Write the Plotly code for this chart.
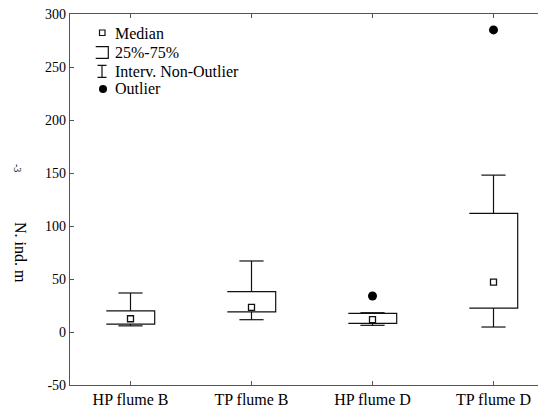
import plotly.graph_objects as go

categories = ["HP flume B", "TP flume B", "HP flume D", "TP flume D"]
medians = [12.5, 23.3, 11.6, 47]
q1 = [7.5, 19, 8.2, 22.6]
q3 = [20, 38, 17.6, 112]
whisk_lo = [5.8, 11.6, 6.3, 4.7]
whisk_hi = [36.8, 67, 18.2, 148]
outlier_x = ["HP flume D", "TP flume D"]
outlier_y = [34, 285]
y_ticks = [-50, 0, 50, 100, 150, 200, 250, 300]
y_tick_labels = ["-50", "0", "50", "100", "150", "200", "250", "300"]

PAGE_W, PAGE_H = 546, 409
OFF = 8  # browser body margin
W, H = PAGE_W - OFF, PAGE_H - OFF
# plot area in page pixels: left 70, top 14, bottom 385, right 546
L, R, T, B = 70 - OFF, 0, 14 - OFF, PAGE_H - 385
plot_w = W - L - R
plot_h = H - T - B
unit_px = 121.0
x_min = -0.5
x_max = x_min + plot_w / unit_px

FONT = "Liberation Serif, Times New Roman, serif"
LINE = "#111111"
AXIS = "#555555"

BOX_HW = 0.2
CAP_HW = 0.1

fig = go.Figure()
for i, c in enumerate(categories):
    # open-left box: top, right side, bottom
    fig.add_trace(go.Scatter(
        x=[i - BOX_HW, i + BOX_HW, i + BOX_HW, i - BOX_HW],
        y=[q3[i], q3[i], q1[i], q1[i]],
        mode="lines", line=dict(color=LINE, width=1.2),
        showlegend=False, hoverinfo="skip"))
    # whiskers
    fig.add_trace(go.Scatter(
        x=[i, i, None, i - CAP_HW, i + CAP_HW, None, i, i, None, i - CAP_HW, i + CAP_HW],
        y=[q3[i], whisk_hi[i], None, whisk_hi[i], whisk_hi[i], None,
           q1[i], whisk_lo[i], None, whisk_lo[i], whisk_lo[i]],
        mode="lines", line=dict(color=LINE, width=1.2),
        showlegend=False, hoverinfo="skip"))

fig.add_trace(go.Scatter(
    x=list(range(len(categories))), y=medians, mode="markers",
    marker=dict(symbol="square-open", size=6, color=LINE, line=dict(width=1.3, color=LINE)),
    showlegend=False, hoverinfo="skip"))

fig.add_trace(go.Scatter(
    x=[categories.index(c) for c in outlier_x], y=outlier_y, mode="markers",
    marker=dict(symbol="circle", size=9, color="black"),
    showlegend=False, hoverinfo="skip"))


def px(xp):
    # page pixel x -> paper fraction
    return (xp - OFF - L) / plot_w


def py(yp):
    # page pixel y -> paper fraction
    return (385 - yp) / plot_h


shapes = []
shapes.append(dict(type="rect", xref="paper", yref="paper",
                   x0=px(99.5), x1=px(105), y0=py(35.5), y1=py(30),
                   line=dict(color=LINE, width=1.2)))
shapes.append(dict(type="path", xref="paper", yref="paper",
                   path=f"M {px(95.7)},{py(46.7)} L {px(108.3)},{py(46.7)} L {px(108.3)},{py(58.3)} L {px(95.7)},{py(58.3)}",
                   line=dict(color=LINE, width=1.2)))
shapes.append(dict(type="path", xref="paper", yref="paper",
                   path=(f"M {px(97.5)},{py(65.3)} L {px(106.5)},{py(65.3)} "
                         f"M {px(102)},{py(65.3)} L {px(102)},{py(77.3)} "
                         f"M {px(97.5)},{py(77.3)} L {px(106.5)},{py(77.3)}"),
                   line=dict(color=LINE, width=1.2)))
shapes.append(dict(type="circle", xref="paper", yref="paper",
                   x0=px(99), x1=px(107), y0=py(93), y1=py(85),
                   fillcolor="black", line=dict(color="black", width=0)))

annotations = []
for txt, yy in [("Median", 33), ("25%-75%", 52), ("Interv. Non-Outlier", 71), ("Outlier", 89)]:
    annotations.append(dict(text=txt, xref="paper", yref="paper", x=px(113), y=py(yy),
                            xanchor="left", yanchor="middle", showarrow=False,
                            font=dict(family=FONT, size=16, color="black")))

annotations.append(dict(text="N. ind. m", xref="paper", yref="paper", x=px(21), y=py(252),
                        xanchor="center", yanchor="middle", showarrow=False, textangle=90,
                        font=dict(family=FONT, size=16, color="black")))
annotations.append(dict(text="-3", xref="paper", yref="paper", x=px(18), y=py(168),
                        xanchor="center", yanchor="middle", showarrow=False, textangle=90,
                        font=dict(family=FONT, size=10, color="black")))

fig.update_layout(
    width=W, height=H,
    margin=dict(l=L, r=R, t=T, b=B, pad=0),
    paper_bgcolor="white", plot_bgcolor="white",
    font=dict(family=FONT, size=14, color="black"),
    shapes=shapes, annotations=annotations,
    showlegend=False,
    xaxis=dict(range=[x_min, x_max], tickvals=list(range(len(categories))), ticktext=categories,
               showgrid=False, zeroline=False, showline=True, linecolor=AXIS, linewidth=1.3,
               mirror="ticks", ticks="inside", ticklen=4, tickcolor=AXIS,
               tickfont=dict(family=FONT, size=16, color="black"), fixedrange=True),
    yaxis=dict(range=[-50, 300], tickvals=y_ticks, ticktext=y_tick_labels,
               ticklabeloverflow="allow",
               showgrid=False, zeroline=False, showline=True, linecolor=AXIS, linewidth=1.3,
               ticks="inside", ticklen=4, tickcolor=AXIS,
               tickfont=dict(family=FONT, size=14, color="black"), fixedrange=True),
)

fig.write_html("out.html")
